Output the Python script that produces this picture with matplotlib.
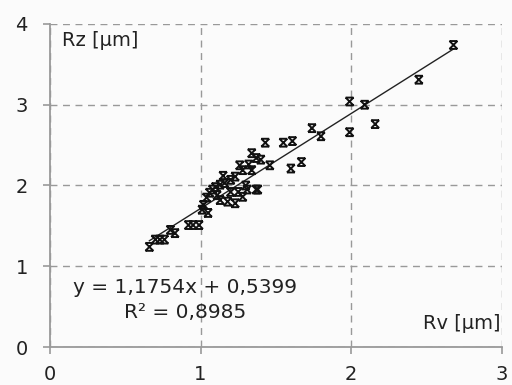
import numpy as np
import matplotlib.pyplot as plt
from matplotlib.path import Path

rv = [0.66, 0.70, 0.73, 0.76, 0.80, 0.83, 0.92, 0.95, 0.99, 1.01, 1.05,
      1.02, 1.04, 1.06, 1.08, 1.11, 1.13, 1.13, 1.16, 1.18, 1.20, 1.20,
      1.23, 1.23, 1.25, 1.28, 1.28, 1.31, 1.32, 1.34, 1.34, 1.37, 1.37,
      1.38, 1.40, 1.43, 1.46, 1.55, 1.60, 1.61, 1.67, 1.74, 1.80, 1.99,
      1.99, 2.09, 2.16, 2.45, 2.68, 1.10, 1.15, 1.26, 1.30]
rz = [1.24, 1.33, 1.33, 1.33, 1.45, 1.41, 1.51, 1.51, 1.51, 1.70, 1.66,
      1.76, 1.85, 1.91, 1.95, 1.88, 2.01, 1.82, 2.03, 1.80, 2.07, 1.92,
      2.11, 1.78, 1.92, 2.19, 1.86, 1.95, 2.26, 2.40, 2.19, 2.34, 1.95,
      1.95, 2.32, 2.53, 2.25, 2.53, 2.21, 2.55, 2.29, 2.71, 2.61, 3.04,
      2.66, 3.00, 2.76, 3.31, 3.74, 1.98, 2.12, 2.25, 2.00]

slope = 1.1754
intercept = 0.5399
r2_text = "R² = 0,8985"
eq_text = "y = 1,1754x + 0,5399"

plt.rcParams['font.family'] = ['DejaVu Sans']

# excel-like "x" marker with caps
marker = Path([(-1, -1), (1, 1), (-1, 1), (1, -1), (-1, 1), (1, 1), (-1, -1), (1, -1)],
              [Path.MOVETO, Path.LINETO] * 4)

fig = plt.figure(figsize=(5.12, 3.85), dpi=100)
fig.patch.set_facecolor('#fbfbfb')
ax = fig.add_axes([0.0977, 0.0987, 0.882, 0.839])
ax.set_facecolor('#fbfbfb')

ax.scatter(rv, rz, marker=marker, s=32, facecolors='none', edgecolors='#111111',
           linewidths=1.4, zorder=3)

xs = np.array([min(rv), max(rv)])
ax.plot(xs, slope * xs + intercept, color='#222222', lw=1.0, zorder=2)

ax.set_xlim(0, 3)
ax.set_ylim(0, 4)
ax.set_xticks([0, 1, 2, 3])
ax.set_yticks([0, 1, 2, 3, 4])
ax.grid(True, color='#999999', linestyle=(0, (5, 4)), linewidth=1.0)
for s in ['top', 'right']:
    ax.spines[s].set_visible(False)
for s in ['left', 'bottom']:
    ax.spines[s].set_color('#999999')
    ax.spines[s].set_linewidth(1.3)
ax.tick_params(colors='#999999', labelcolor='#222222', labelsize=14, length=5, width=1.2)
ax.tick_params(axis='y', pad=11)
ax.tick_params(axis='x', pad=8)

ax.text(0.027, 0.95, "Rz [µm]", transform=ax.transAxes, fontsize=14, color='#222222',
        va='center', ha='left')
ax.text(0.997, 0.074, "Rv [µm]", transform=ax.transAxes, fontsize=14, color='#222222',
        va='center', ha='right')
ax.text(0.30, 0.183, eq_text, transform=ax.transAxes, fontsize=14.5, color='#222222',
        va='center', ha='center')
ax.text(0.30, 0.108, r2_text, transform=ax.transAxes, fontsize=14.5, color='#222222',
        va='center', ha='center')

fig.savefig("out.png", dpi=100, facecolor=fig.get_facecolor())
